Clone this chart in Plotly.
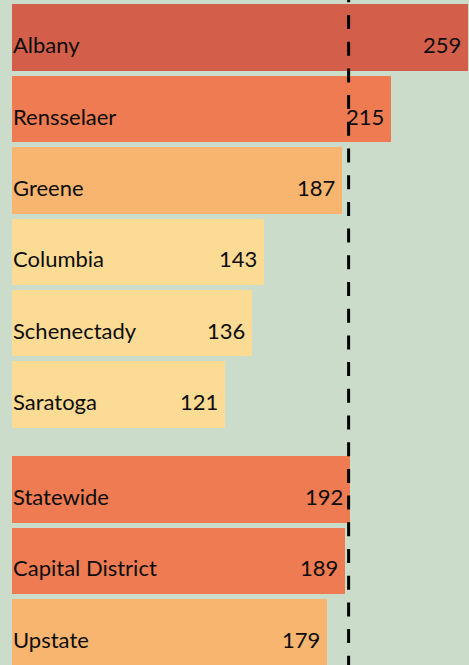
import plotly.graph_objects as go

# Rates by county, followed by regional summaries
counties = ["Albany", "Rensselaer", "Greene", "Columbia", "Schenectady", "Saratoga"]
county_rates = [259, 215, 187, 143, 136, 121]

regions = ["Statewide", "Capital District", "Upstate"]
region_rates = [192, 189, 179]

benchmark = 191  # reference rate shown as the dashed line

RED = "#d35f4b"
ORANGE = "#ee7b51"
AMBER = "#f7b56f"
PALE = "#fcdb95"


def band(v):
    # colour bands used for the bars
    if v >= 250:
        return RED
    if v >= 189:
        return ORANGE
    if v >= 170:
        return AMBER
    return PALE


names = counties + regions
rates = county_rates + region_rates
colors = [band(v) for v in rates]

GAP = 0.33  # extra space separating the counties from the summary rows
ypos = list(range(len(counties))) + [len(counties) + GAP + i for i in range(len(regions))]

fig = go.Figure(
    go.Bar(
        x=rates,
        y=ypos,
        orientation="h",
        width=0.93,
        marker=dict(color=colors, line=dict(width=0)),
        hoverinfo="skip",
    )
)

FONT = dict(family="Lato", size=22, color="#0d0d0d")
annotations = []
for n, v, y in zip(names, rates, ypos):
    annotations.append(dict(x=0, y=y, xref="x", yref="y", text=n, showarrow=False,
                            xanchor="left", yanchor="middle", xshift=-1, yshift=-7, font=FONT))
    annotations.append(dict(x=v, y=y, xref="x", yref="y", text=str(v), showarrow=False,
                            xanchor="right", yanchor="middle", xshift=-5, yshift=-7, font=FONT))

fig.update_layout(
    width=469,
    height=665,
    margin=dict(l=0, r=0, t=0, b=0),
    paper_bgcolor="#cbdccb",
    plot_bgcolor="#cbdccb",
    showlegend=False,
    bargap=0,
    xaxis=dict(visible=False, range=[-6.8, 259.3], fixedrange=True),
    yaxis=dict(visible=False, range=[8.787, -0.5266], fixedrange=True),
    annotations=annotations,
    shapes=[dict(type="line", xref="x", yref="paper", x0=benchmark, x1=benchmark,
                 y0=1.0176, y1=-0.01, layer="above",
                 line=dict(color="black", width=3, dash="14px,12.7px"))],
)

fig.write_html("out.html", config={"displayModeBar": False})
